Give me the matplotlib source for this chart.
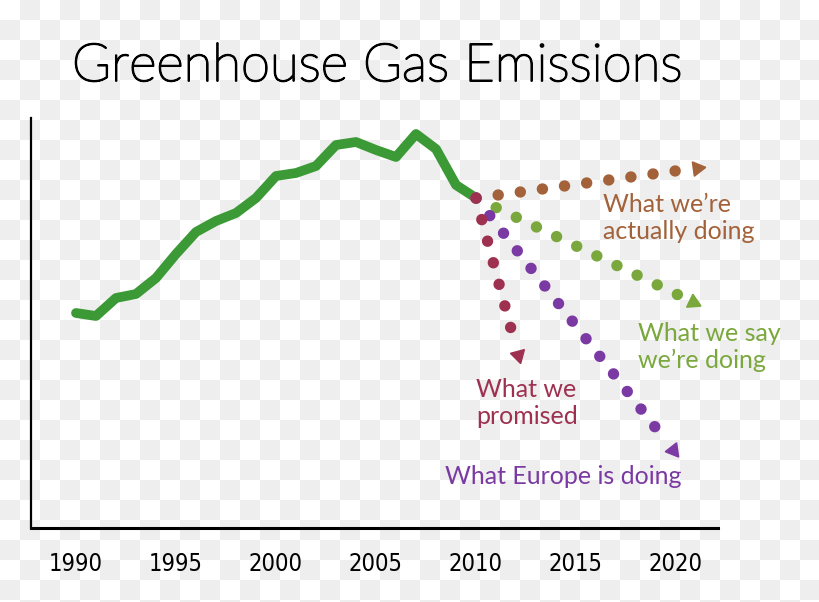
import numpy as np
import matplotlib
matplotlib.use("Agg")
import matplotlib.pyplot as plt
import matplotlib.patheffects as pe

# historical emissions (arbitrary units)
years = np.arange(1990, 2011)
emissions = [215, 212, 230, 234, 250, 274, 296, 307, 315, 330, 352,
             355, 362, 383, 386, 378, 371, 394, 379, 343, 330]

# projections: label, end year, end value, colour
proj_labels = ["What we’re\nactually doing", "What we say\nwe’re doing",
               "What Europe is doing", "What we\npromised"]
proj_end_year = [2021.05, 2020.85, 2019.85, 2012.1]
proj_end_val = [360, 226, 78, 173]
proj_colors = ["#a3623a", "#7aa83c", "#7b3aa3", "#9e3150"]
label_pos = [(2016.35, 335), (2018.1, 206), (2008.45, 63), (2010.0, 150)]

tick_years = [1990, 1995, 2000, 2005, 2010, 2015, 2020]

fig = plt.figure(figsize=(8.2, 6.02), dpi=100)

# transparent-looking checkerboard background
yy, xx = np.indices((602, 820))
checker = ((yy // 20 + xx // 20) % 2).astype(float)
bg = np.where(checker == 1, 0.937, 1.0)
fig.figimage(np.dstack([bg, bg, bg]), xo=0, yo=0, zorder=-10)

ax = fig.add_axes([31 / 820, 74 / 602, 687 / 820, 410 / 602])
ax.patch.set_alpha(0)
ax.set_xlim(1987.75, 2022.1)
ax.set_ylim(0, 410)

ax.plot(years, emissions, color="#3b9a35", lw=7, solid_capstyle="round",
        solid_joinstyle="round", zorder=3)

start_year, start_val = years[-1], emissions[-1]
for i in range(len(proj_labels)):
    c = proj_colors[i]
    p0 = ax.transData.transform((start_year, start_val))
    p1 = ax.transData.transform((proj_end_year[i], proj_end_val[i]))
    d = p1 - p0
    u = d / np.hypot(*d)
    # stop the dots a little before the arrow head
    stop = ax.transData.inverted().transform(p1 - u * 14)
    ax.plot([start_year, stop[0]], [start_val, stop[1]],
            color=c, lw=8.2, linestyle=(0, (0.01, 1.95)), dash_capstyle="round",
            zorder=4 + i)
    ang = np.degrees(np.arctan2(d[1], d[0]))
    ax.plot(proj_end_year[i], proj_end_val[i], marker=(3, 0, ang - 90),
            markersize=12, color=c, lw=0, zorder=4 + i)
    ax.text(label_pos[i][0], label_pos[i][1], proj_labels[i], color=c,
            fontsize=18, family="Lato", ha="left", va="top",
            linespacing=1.2)

ax.spines["top"].set_visible(False)
ax.spines["right"].set_visible(False)
ax.spines["left"].set_linewidth(1.6)
ax.spines["bottom"].set_linewidth(2.2)
ax.set_yticks([])
ax.set_xticks(tick_years)
ax.set_xticklabels([str(y) for y in tick_years], family="DejaVu Sans",
                   fontstretch="condensed", fontsize=17)
ax.tick_params(axis="x", length=0, pad=17)

fig.text(72 / 820, 1 - 81 / 602, "Greenhouse Gas Emissions", family="Lato",
         fontweight="light", fontsize=38, va="baseline", ha="left",
         path_effects=[pe.withStroke(linewidth=1.3, foreground="black")])

fig.savefig("out.png", dpi=100)
